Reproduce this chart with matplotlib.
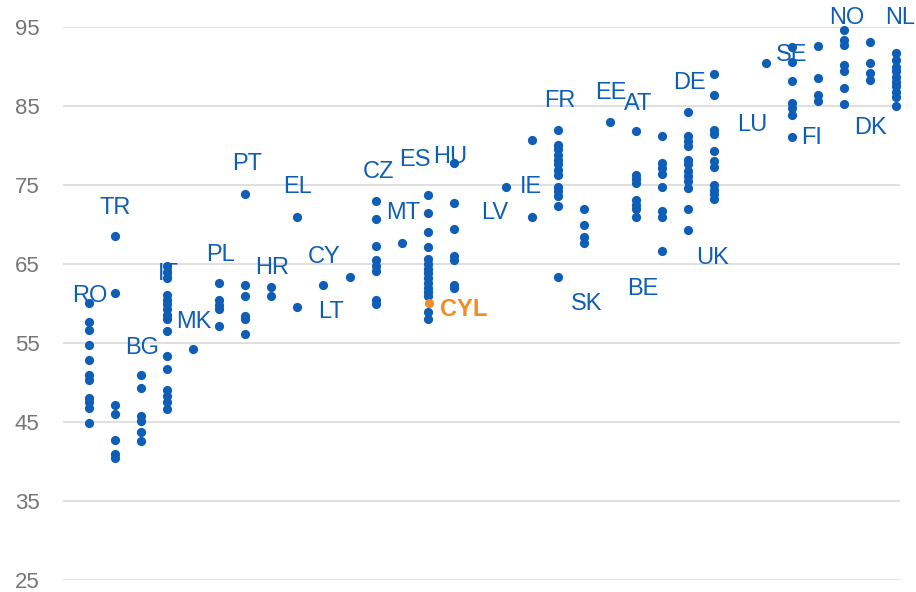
import matplotlib
matplotlib.use("Agg")
import matplotlib.pyplot as plt

# ---- data: regional values per country (columns in chart order) ----
countries = ["RO", "TR", "BG", "IT", "MK", "PL", "PT", "HR", "EL", "CY", "LT",
             "CZ", "MT", "ES", "HU", "", "LV", "IE", "FR", "SK", "EE", "AT",
             "BE", "DE", "UK", "", "LU", "SE", "FI", "NO", "DK", "NL"]

RO = [60.1, 57.6, 56.6, 54.7, 52.9, 51.0, 50.3, 48.1, 47.5, 46.8, 44.9]
TR = [68.5, 61.3, 47.2, 46.0, 42.7, 41.0, 40.5]
BG = [51.0, 49.3, 45.8, 45.1, 43.7, 42.6]
IT = [64.8, 64.0, 63.2, 61.1, 60.5, 59.9, 59.3, 58.6, 58.0, 56.5, 53.3, 51.7,
      49.1, 48.3, 47.5, 46.7]
MK = [54.3]
PL = [62.6, 60.4, 59.8, 59.3, 57.1]
PT = [73.9, 62.3, 61.0, 58.4, 58.0, 56.1]
HR = [62.1, 61.0]
EL = [70.9, 59.6]
CY = [62.3]
LT = [63.4]
CZ = [73.0, 70.7, 67.3, 65.5, 64.7, 64.1, 60.4, 59.9]
MT = [67.7]
ES = [73.7, 71.5, 69.0, 67.2, 65.6, 65.0, 64.4, 63.8, 63.2, 62.6, 62.0, 61.5,
      61.0, 58.9, 58.0]
HU = [77.8, 72.7, 69.4, 66.0, 65.5, 62.4, 62.0]
LV = [74.7]
IE = [80.7, 71.0]
FR = [82.0, 80.1, 79.5, 78.8, 78.2, 77.6, 76.9, 76.3, 74.8, 74.2, 73.6, 72.4, 63.4]
SK = [72.0, 69.9, 68.4, 67.7]
EE = [83.0]
AT = [81.8, 76.3, 75.8, 75.2, 73.1, 72.5, 71.9, 71.0]
BE = [81.2, 77.8, 77.1, 76.4, 74.8, 71.7, 71.0, 66.6]
DE = [84.3, 81.2, 80.6, 79.9, 78.2, 77.6, 76.8, 76.1, 75.5, 74.6, 72.0, 69.3]
UK = [89.1, 86.4, 82.0, 81.4, 79.3, 78.0, 77.3, 75.0, 74.4, 73.8, 73.2]
LU = [90.4]
SE = [92.5, 90.6, 88.2, 85.4, 84.7, 83.8, 81.1]
FI = [92.6, 88.6, 86.4, 85.6]
NO = [94.6, 93.4, 92.7, 90.2, 89.4, 87.3, 85.3]
DK = [93.1, 90.5, 89.2, 88.3]
NL = [91.7, 90.8, 90.0, 89.4, 88.7, 88.1, 87.5, 86.8, 86.2, 85.0]

series = [RO, TR, BG, IT, MK, PL, PT, HR, EL, CY, LT, CZ, MT, ES, HU, [],
          LV, IE, FR, SK, EE, AT, BE, DE, UK, [], LU, SE, FI, NO, DK, NL]

highlight_label = "CYL"
highlight_value = 60.1
highlight_col = 13  # ES column

yticks = [25, 35, 45, 55, 65, 75, 85, 95]

# ---- layout (label anchor points in data coordinates) ----
label_pos = {
    "RO": (0.03, 61.0), "TR": (0.99, 72.1), "BG": (2.03, 54.4),
    "IT": (3.05, 63.7), "MK": (4.03, 57.7), "PL": (5.03, 66.2),
    "PT": (6.06, 77.6), "HR": (7.02, 64.5), "EL": (8.0, 74.7),
    "CY": (9.02, 65.9), "LT": (9.29, 58.9), "CZ": (11.10, 76.7),
    "MT": (12.06, 71.4), "ES": (12.52, 78.2), "HU": (13.86, 78.6),
    "LV": (15.59, 71.5), "IE": (16.98, 74.7), "FR": (18.09, 85.6),
    "SK": (19.13, 60.0), "EE": (20.05, 86.7), "AT": (21.09, 85.3),
    "BE": (21.28, 61.8), "DE": (23.05, 87.9), "UK": (23.97, 65.8),
    "LU": (25.47, 82.6), "SE": (27.0, 91.5), "FI": (27.74, 81.0),
    "NO": (29.12, 96.1), "DK": (30.04, 82.2), "NL": (31.16, 96.1),
}

blue = "#0E5DB6"
orange = "#F28C28"

plt.rcParams["font.family"] = ["Liberation Sans", "DejaVu Sans"]

fig = plt.figure(figsize=(9.16, 5.92), dpi=100)
ax = fig.add_axes([63 / 916, 12 / 592, (900 - 63) / 916, (580 - 27) / 592])

xs, ys = [], []
for i, vals in enumerate(series):
    for v in vals:
        xs.append(i)
        ys.append(v)
ax.scatter(xs, ys, s=44, color=blue, linewidths=0, zorder=3, clip_on=False)
ax.scatter([highlight_col + 0.06], [highlight_value], s=44, color=orange,
           linewidths=0, zorder=4, clip_on=False)

for name, (lx, ly) in label_pos.items():
    ax.text(lx, ly, name, color=blue, fontsize=17, ha="center", va="center",
            zorder=5, clip_on=False)
ax.text(13.48, 59.2, highlight_label, color=orange, fontsize=17,
        fontweight="bold", ha="left", va="center", zorder=5)

ax.set_xlim(-1.011, 31.157)
ax.set_ylim(25, 95)
ax.set_yticks(yticks)
ax.set_xticks([])
ax.yaxis.grid(True, color="#D9D9D9", linewidth=1.2)
ax.set_axisbelow(True)
for sp in ax.spines.values():
    sp.set_visible(False)
ax.tick_params(axis="y", length=0, pad=17, labelsize=16, labelcolor="#767676")

fig.savefig("out.png", dpi=100)
